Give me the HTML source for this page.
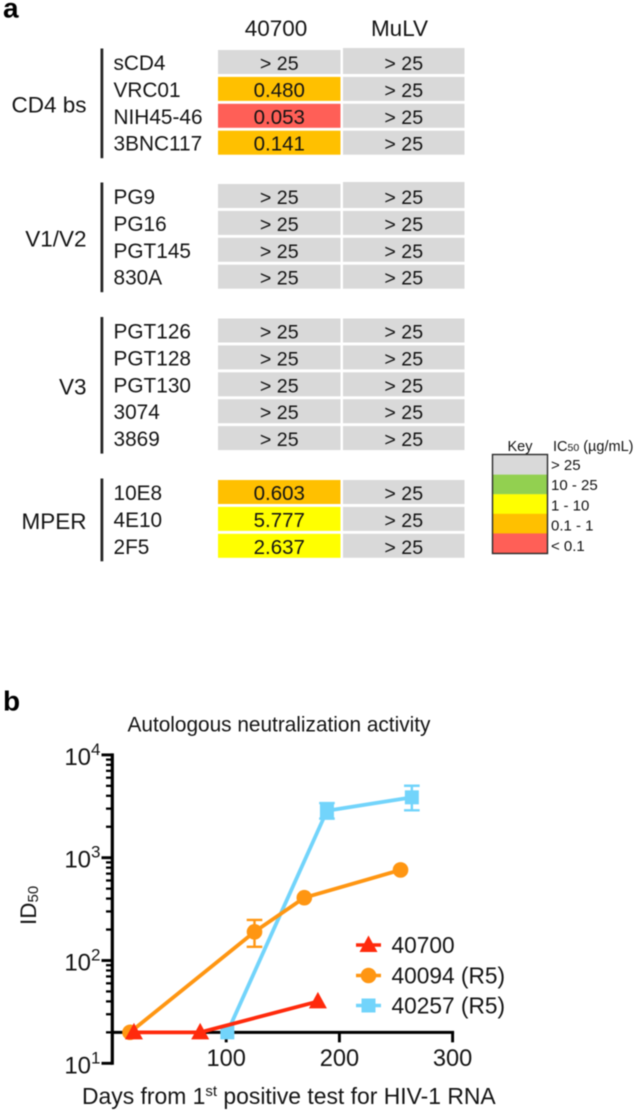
<!DOCTYPE html>
<html lang="en">
<head>
<meta charset="utf-8">
<title>Neutralization panel and autologous neutralization activity</title>
<style>
  html, body { margin: 0; padding: 0; background: #fff; }
  #figure { display: block; width: 641px; height: 1113px; filter: blur(0.4px); }
  text { font-family: "Liberation Sans", Arial, sans-serif; fill: #141414; }
</style>
</head>
<body>
<svg id="figure" xmlns="http://www.w3.org/2000/svg" width="641" height="1113" viewBox="0 0 641 1113">
  <rect x="0" y="0" width="641" height="1113" fill="#fff"></rect>
  <text x="3" y="17.5" font-size="28" font-weight="bold" style="fill:#000">a</text>
  <text x="3" y="710.5" font-size="28" font-weight="bold" style="fill:#000">b</text>

  <g id="heatmap"></g>

  <g id="key">
    <text x="520" y="451" font-size="14.5" text-anchor="middle">Key</text>
    <text x="553" y="451" font-size="14.5">IC<tspan font-size="10.5">50</tspan> (µg/mL)</text>
  </g>

  <text x="127.5" y="731.5" font-size="20.8">Autologous neutralization activity</text>
  <g id="chart"></g>
  <text transform="translate(36 925) rotate(-90)" font-size="22.5">ID<tspan font-size="15" dy="2">50</tspan></text>
  <text x="82" y="1104" font-size="22.9">Days from 1<tspan font-size="15" dy="-8">st</tspan><tspan dy="8"> positive test for HIV-1 RNA</tspan></text>
</svg>

<script>
// ---------- Heatmap data ----------
const groupNames = ['CD4 bs', 'V1/V2', 'V3', 'MPER'];
const groupAntibodies = [
  ['sCD4', 'VRC01', 'NIH45-46', '3BNC117'],
  ['PG9', 'PG16', 'PGT145', '830A'],
  ['PGT126', 'PGT128', 'PGT130', '3074', '3869'],
  ['10E8', '4E10', '2F5']
];
const viruses = ['40700', 'MuLV'];
const values40700 = [
  ['>25', 0.480, 0.053, 0.141],
  ['>25', '>25', '>25', '>25'],
  ['>25', '>25', '>25', '>25', '>25'],
  [0.603, 5.777, 2.637]
];
const valuesMuLV = [
  ['>25', '>25', '>25', '>25'],
  ['>25', '>25', '>25', '>25'],
  ['>25', '>25', '>25', '>25', '>25'],
  ['>25', '>25', '>25']
];
const keyLabels = ['> 25', '10 - 25', '1 - 10', '0.1 - 1', '< 0.1'];
const keyColors = ['#d9d9d9', '#92d050', '#ffff00', '#ffc000', '#ff5f57'];

// ---------- Chart data ----------
const seriesNames = ['40700', '40094 (R5)', '40257 (R5)'];
const days40700 = [18.5, 77, 181];
const id40700 = [20, 20, 40];
const days40094 = [15, 125, 169, 254];
const id40094 = [20, 190, 408, 760];
const upper40094 = [null, 248, null, null];
const lower40094 = [null, 136, null, null];
const days40257 = [101, 189, 264];
const id40257 = [20, 2864, 3866];
const upper40257 = [null, 3400, 5012];
const lower40257 = [null, 2400, 2890];
const xTickValues = [100, 200, 300];
const yTickExponents = [1, 2, 3, 4];
const baselineValue = 20;

// ---------- Helpers ----------
const SVG_NS = 'http://www.w3.org/2000/svg';
function make(tag, attrs, parent) {
  const node = document.createElementNS(SVG_NS, tag);
  for (const k in attrs) node.setAttribute(k, attrs[k]);
  parent.appendChild(node);
  return node;
}
function cellColor(v) {
  if (typeof v !== 'number' || v > 25) return keyColors[0];
  if (v >= 10) return keyColors[1];
  if (v >= 1) return keyColors[2];
  if (v >= 0.1) return keyColors[3];
  return keyColors[4];
}
function cellText(v) {
  return typeof v === 'number' ? v.toFixed(3) : '> 25';
}

// ---------- Heatmap ----------
const heatmap = document.getElementById('heatmap');
const groupTop = [50, 184, 318.5, 480];
const rowStep = 26.9;
const rowHeight = 24;
const colX = [218, 343];
const colW = [122.5, 121.5];
const headerCenter = [276, 399.5];
const columnValues = [values40700, valuesMuLV];

viruses.forEach(function (name, c) {
  const t = make('text', { x: headerCenter[c], y: 36, 'font-size': 22.5, 'text-anchor': 'middle' }, heatmap);
  
  
  t.textContent = name;
});

groupNames.forEach(function (group, g) {
  const rows = groupAntibodies[g];
  const top = groupTop[g];
  const bottom = top + rows.length * rowStep - (rowStep - rowHeight);

  const bar = make('rect', { x: 100.5, y: top - 1.5, width: 2.8, height: bottom - top + 5, fill: '#262626' }, heatmap);
  
  

  const label = make('text', { x: 86.5, y: (top + bottom) / 2 + 10, 'font-size': 22.5, 'text-anchor': 'end' }, heatmap);
  
  
  label.textContent = group;

  rows.forEach(function (ab, r) {
    const y = top + r * rowStep;
    const rowLabel = make('text', { x: 113.5, y: y + 20, 'font-size': 20.8 }, heatmap);
    
    
    rowLabel.textContent = ab;

    columnValues.forEach(function (values, c) {
      const v = values[g][r];
      const raise = (c === 1 && r === 0 && g < 2) ? 2 : 0;
      const cell = make('rect', { x: colX[c], y: y - raise, width: colW[c], height: rowHeight + raise, fill: cellColor(v) }, heatmap);
      
      

      const txt = make('text', { x: colX[c] + colW[c] / 2, y: y + 20, 'font-size': typeof v === 'number' ? 20.5 : 19.6, 'text-anchor': 'middle' }, heatmap);
      
      
      txt.textContent = cellText(v);
    });
  });
});

// ---------- Key ----------
const keyGroup = document.getElementById('key');
const keyTop = 455;
const keyStep = 19.6;
keyLabels.forEach(function (lab, i) {
  const swatch = make('rect', { x: 492.5, y: keyTop + i * keyStep, width: 55, height: keyStep + 0.2, fill: keyColors[i] }, keyGroup);
  
  

  const t = make('text', { x: 551, y: 470 + i * 20.2, 'font-size': 15 }, keyGroup);
  
  
  t.textContent = lab;
});
const keyBox = make('rect', { x: 492.5, y: 454.5, width: 55, height: 99, fill: 'none', stroke: '#2a2a2a', 'stroke-width': 1.4 }, keyGroup);



// ---------- Chart ----------
const chart = document.getElementById('chart');
function xScale(d) { return 113 + 1.132 * d; }
function yScale(v) { return 1063.3 - 102.8 * (Math.log10(v) - 1); }
const RED = '#ff2a0c';
const ORANGE = '#ff9612';
const CYAN = '#72d4fb';

const yAxisLine = make('line', { x1: 112.3, x2: 112.3, y1: yScale(10000) - 1.5, y2: yScale(10) + 1.5, stroke: '#000', 'stroke-width': 3.2 }, chart);



const xAxisLine = make('line', { x1: 112.3, x2: xScale(300) + 1.5, y1: yScale(baselineValue), y2: yScale(baselineValue), stroke: '#000', 'stroke-width': 3 }, chart);



yTickExponents.forEach(function (exp, i) {
  const base = Math.pow(10, exp);
  const y = yScale(base);
  const major = make('line', { x1: 101.5, x2: 112.3, y1: y, y2: y, stroke: '#000', 'stroke-width': 2.9 }, chart);
  
  

  const label = make('text', { x: 100.5, y: y + 10, 'font-size': 24, 'text-anchor': 'end' }, chart);
  
  
  const baseSpan = make('tspan', {}, label);
  baseSpan.textContent = '10';
  const expSpan = make('tspan', { 'font-size': 17, dy: -10 }, label);
  expSpan.textContent = String(exp);

  if (i < yTickExponents.length - 1) {
    for (let m = 2; m <= 9; m++) {
      const yMinor = yScale(base * m);
      const minor = make('line', { x1: 106, x2: 112.3, y1: yMinor, y2: yMinor, stroke: '#000', 'stroke-width': 2.3 }, chart);
      
      
    }
  }
});

xTickValues.forEach(function (tick) {
  const x = xScale(tick);
  const y0 = yScale(baselineValue);
  const t = make('line', { x1: x, x2: x, y1: y0, y2: y0 + 10, stroke: '#000', 'stroke-width': 2.9 }, chart);
  
  

  const label = make('text', { x: x, y: 1066, 'font-size': 23.6, 'text-anchor': 'middle' }, chart);
  
  
  label.textContent = String(tick);
});

function marker(shape, cx, cy, color, parent) {
  if (shape === 'circle') {
    return make('circle', { cx: cx, cy: cy, r: 7.8, fill: color }, parent);
  }
  if (shape === 'square') {
    return make('rect', { x: cx - 7, y: cy - 7, width: 14, height: 14, fill: color }, parent);
  }
  return make('polygon', { points: (cx) + ',' + (cy - 9.5) + ' ' + (cx + 9) + ',' + (cy + 7) + ' ' + (cx - 9) + ',' + (cy + 7), fill: color }, parent);
}

function drawSeries(name, days, ids, upper, lower, shape, color) {
  const g = make('g', {}, chart);
  
  

  const pts = days.map(function (d, i) { return xScale(d) + ',' + yScale(ids[i]); }).join(' ');
  const line = make('polyline', { points: pts, fill: 'none', stroke: color, 'stroke-width': 3.8, 'stroke-linejoin': 'round' }, g);
  
  

  days.forEach(function (d, i) {
    const cx = xScale(d);
    if (upper && upper[i] !== null) {
      const yU = yScale(upper[i]);
      const yL = yScale(lower[i]);
      const err = make('path', {
        d: 'M' + cx + ' ' + yU + 'V' + yL + 'M' + (cx - 7.8) + ' ' + yU + 'H' + (cx + 7.8) + 'M' + (cx - 7.8) + ' ' + yL + 'H' + (cx + 7.8),
        fill: 'none', stroke: color, 'stroke-width': 2.4
      }, g);
      
      
    }
    const m = marker(shape, cx, yScale(ids[i]), color, g);
    
    
  });
}

drawSeries('40257', days40257, id40257, upper40257, lower40257, 'square', CYAN);
drawSeries('40094', days40094, id40094, upper40094, lower40094, 'circle', ORANGE);
drawSeries('40700', days40700, id40700, null, null, 'triangle', RED);

// ---------- Legend ----------
const legendShapes = ['triangle', 'circle', 'square'];
const legendColors = [RED, ORANGE, CYAN];
const legendY = [945, 975.5, 1005.5];
seriesNames.forEach(function (name, i) {
  const g = make('g', {}, chart);
  
  

  const ln = make('line', { x1: 356, x2: 381, y1: legendY[i], y2: legendY[i], stroke: legendColors[i], 'stroke-width': 3.4 }, g);
  
  

  const m = marker(legendShapes[i], 368.5, legendY[i], legendColors[i], g);
  
  

  const t = make('text', { x: 391.5, y: legendY[i] + 8, 'font-size': 22.7 }, g);
  
  
  t.textContent = name;
});
</script>
</body>
</html>
